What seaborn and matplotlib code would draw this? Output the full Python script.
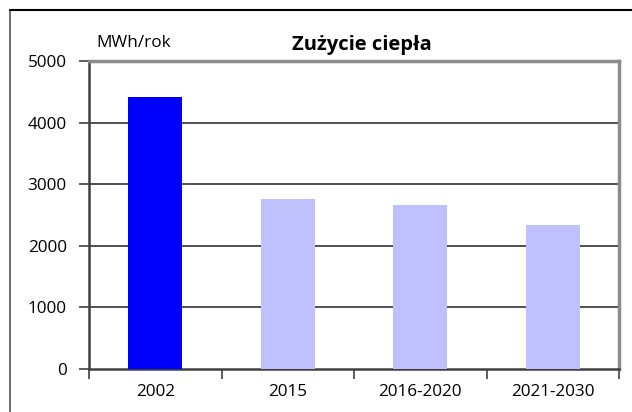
import matplotlib
matplotlib.use("Agg")
import matplotlib.pyplot as plt
from matplotlib.lines import Line2D
import seaborn as sns
import pandas as pd

# data
categories = ["2002", "2015", "2016-2020", "2021-2030"]
values = [4410, 2760, 2660, 2340]
bar_colors = ["#0000FF", "#C0C0FF", "#C0C0FF", "#C0C0FF"]
y_ticks = [0, 1000, 2000, 3000, 4000, 5000]

sns.set_theme(style="white")
plt.rcParams["font.family"] = ["Open Sans", "DejaVu Sans"]
plt.rcParams["text.color"] = "black"

df = pd.DataFrame({"okres": categories, "mwh": values})

fig = plt.figure(figsize=(6.32, 4.12), dpi=100)
ax = fig.add_axes([89 / 632, 43 / 412, 530 / 632, 308 / 412])

sns.barplot(data=df, x="okres", y="mwh", hue="okres", palette=bar_colors,
            width=0.41, saturation=1, legend=False, ax=ax, zorder=3,
            linewidth=0, edgecolor="none")

ax.set_ylim(0, 5000)
ax.set_xlim(-0.5, len(categories) - 0.5)
ax.set_yticks(y_ticks)
ax.set_yticklabels([str(t) for t in y_ticks], fontsize=12.3, color="black")
ax.tick_params(axis="y", direction="out", length=7, width=1.2, color="#404040",
               pad=9, left=True)

# category labels on minor ticks, tick marks on boundaries
ax.set_xticks([i - 0.5 for i in range(len(categories) + 1)])
ax.set_xticklabels([])
ax.set_xticks(range(len(categories)), minor=True)
ax.set_xticklabels(categories, minor=True, fontsize=12.3, color="black")
ax.tick_params(axis="x", which="major", direction="out", length=7, width=1.2,
               color="#404040", bottom=True)
ax.tick_params(axis="x", which="minor", length=0, pad=11)

for t in y_ticks[1:-1]:
    ax.axhline(t, color="#202020", lw=1.1, zorder=1)

for side in ["left", "bottom"]:
    ax.spines[side].set_color("#404040")
    ax.spines[side].set_linewidth(1.8)
for side in ["top", "right"]:
    ax.spines[side].set_color("#8c8c8c")
    ax.spines[side].set_linewidth(2.5)

ax.set_xlabel("")
ax.set_ylabel("")

fig.text(362 / 632, 1 - 45 / 412, "Zużycie ciepła", ha="center", va="center",
         fontsize=14.5, fontweight="bold", color="black")
fig.text(96 / 632, 1 - 43 / 412, "MWh/rok", ha="left", va="center",
         fontsize=12.3, color="black")

# outer chart border (cropped on right and bottom)
fig.add_artist(Line2D([9.5 / 632, 9.5 / 632], [0, 1 - 10 / 412], color="#555555",
                      lw=1.2, transform=fig.transFigure))
fig.add_artist(Line2D([9.5 / 632, 1], [1 - 10 / 412, 1 - 10 / 412], color="black",
                      lw=1.5, transform=fig.transFigure))

fig.savefig("out.png", dpi=100)
